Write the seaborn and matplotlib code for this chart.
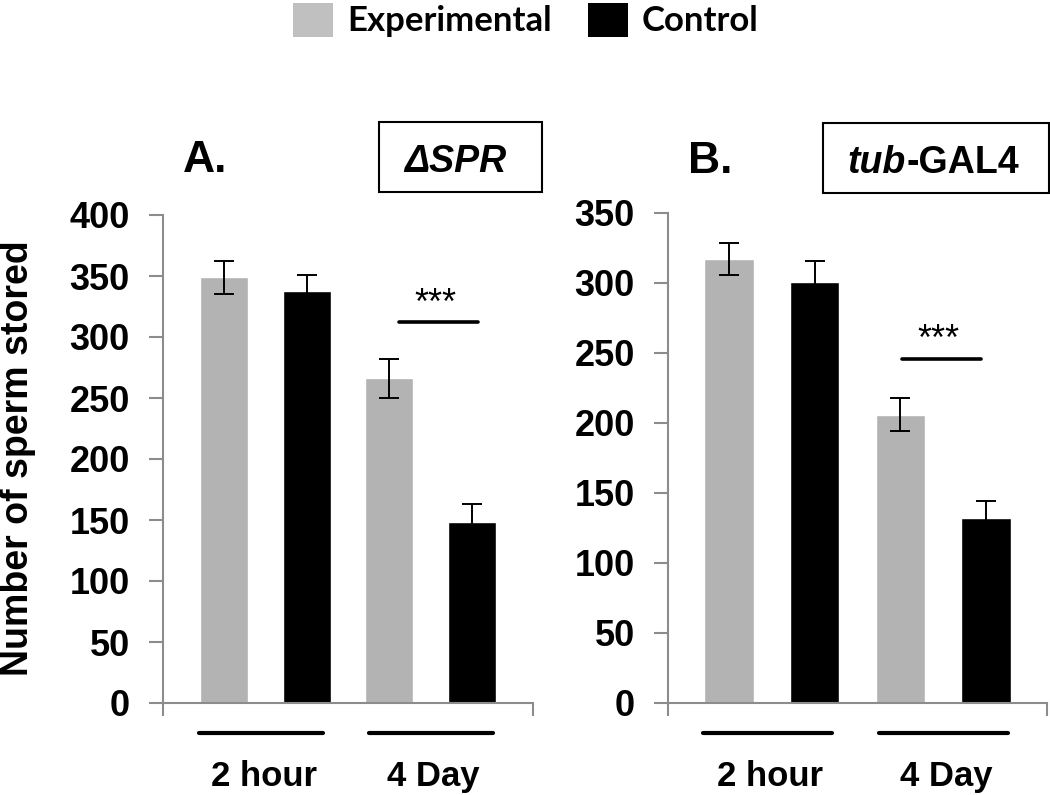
import numpy as np
import pandas as pd
import matplotlib
matplotlib.use('Agg')
import matplotlib.pyplot as plt
from matplotlib.patches import Patch, Rectangle
import seaborn as sns

time_points = ['2 hour', '4 Day']
conditions = ['Experimental', 'Control']

# panel A (delta SPR)
spr_exp = [349, 266]
spr_exp_err = [13.5, 16]
spr_ctrl = [338, 148]
spr_ctrl_err = [12.5, 15]

# panel B (tub-GAL4)
tub_exp = [317, 206]
tub_exp_err = [11.5, 12]
tub_ctrl = [301, 132]
tub_ctrl_err = [15, 12]

sns.set_style('white')
plt.rcParams['font.family'] = ['Liberation Sans', 'DejaVu Sans']
plt.rcParams['text.color'] = 'black'

bar_colors = {'Experimental': '#b3b3b3', 'Control': '#000000'}
axis_gray = '#8c8c8c'


def make_df(exp, exp_err, ctrl, ctrl_err):
    rows = []
    for i, tp in enumerate(time_points):
        rows.append({'bar': f'{tp} Experimental', 'cond': 'Experimental', 'value': exp[i], 'err': exp_err[i]})
        rows.append({'bar': f'{tp} Control', 'cond': 'Control', 'value': ctrl[i], 'err': ctrl_err[i]})
    return pd.DataFrame(rows)


def draw_panel(ax, df, ymax, xlim, sig_y, star_y, sig_x):
    sns.barplot(data=df, x='bar', y='value', hue='cond', order=list(df['bar']),
                hue_order=conditions, palette=bar_colors, dodge=False, width=0.58,
                errorbar=None, saturation=1, legend=False, ax=ax)
    ax.errorbar(np.arange(len(df)), df['value'], yerr=df['err'], fmt='none',
                ecolor='black', elinewidth=1.4, capsize=7, capthick=1.4, zorder=5)

    ax.set_ylim(0, ymax)
    ax.set_xlim(*xlim)
    ax.set_yticks(np.arange(0, ymax + 1, 50))
    ax.set_xticks(list(xlim))
    ax.set_xticklabels(['', ''])
    ax.set_xlabel('')
    ax.set_ylabel('')
    for s in ['top', 'right']:
        ax.spines[s].set_visible(False)
    for s in ['left', 'bottom']:
        ax.spines[s].set_color(axis_gray)
        ax.spines[s].set_linewidth(1.5)
    ax.tick_params(axis='y', labelsize=26, length=10, width=1.5, color=axis_gray,
                   labelcolor='black', pad=14, left=True)
    ax.tick_params(axis='x', length=9, width=1.5, color=axis_gray, bottom=True)
    for lab in ax.get_yticklabels():
        lab.set_fontweight('bold')

    # significance bar
    ax.plot(sig_x, [sig_y, sig_y], color='black', lw=2.6)
    ax.text(np.mean(sig_x) - 0.04, star_y, '***', ha='center', va='center', fontsize=26)

    # group lines and labels under the axis
    trans = ax.get_xaxis_transform()
    for center, tp in zip([0.45, 2.5], time_points):
        ax.plot([center - 0.75, center + 0.75], [-0.0615, -0.0615], color='black', lw=3,
                transform=trans, clip_on=False)
        ax.text(center + 0.03, -0.15, tp, transform=trans, ha='center', va='center',
                fontsize=25, fontweight='bold')


fig = plt.figure(figsize=(10.5, 7.95), dpi=100)
W, H = 1050, 795

ax_a = fig.add_axes([163 / W, 92 / H, 370 / W, 488 / H])
ax_b = fig.add_axes([668 / W, 92 / H, 379 / W, 490 / H])

draw_panel(ax_a, make_df(spr_exp, spr_exp_err, spr_ctrl, spr_ctrl_err), 400,
           (-0.74, 3.74), 312, 327, (2.12, 3.08))
draw_panel(ax_b, make_df(tub_exp, tub_exp_err, tub_ctrl, tub_ctrl_err), 350,
           (-0.71, 3.71), 246, 259, (2.02, 2.94))

fig.text(18 / W, 1 - 458 / H, 'Number of sperm stored', rotation=90, ha='center', va='center',
         fontsize=27, fontweight='bold')

# panel letters
fig.text(183 / W, 1 - 172 / H, 'A.', ha='left', va='baseline', fontsize=32, fontweight='bold')
fig.text(688 / W, 1 - 173 / H, 'B.', ha='left', va='baseline', fontsize=32, fontweight='bold')

# genotype boxes
fig.add_artist(Rectangle((379 / W, 1 - 192 / H), 163 / W, 70 / H, transform=fig.transFigure,
                         fill=False, ec='black', lw=1.5))
fig.add_artist(Rectangle((823 / W, 1 - 193 / H), 226 / W, 70 / H, transform=fig.transFigure,
                         fill=False, ec='black', lw=1.5))
fig.text(455 / W, 1 - 172 / H, '\u0394SPR', ha='center', va='baseline', fontsize=27,
         fontweight='bold', style='italic')
fig.text(906 / W, 1 - 173 / H, 'tub', ha='right', va='baseline', fontsize=27,
         fontweight='bold', style='italic')
fig.text(906 / W, 1 - 173 / H, '-GAL4', ha='left', va='baseline', fontsize=27, fontweight='bold')

# legend at top
handles = [Patch(facecolor='#c0c0c0', edgecolor='none'), Patch(facecolor='black', edgecolor='none')]
fig.legend(handles, conditions, loc='center left', bbox_to_anchor=(293 / W, 1 - 20 / H),
           ncol=2, frameon=False, handlelength=1.15, handleheight=1.15, handletextpad=0.4,
           columnspacing=1.05, borderpad=0, borderaxespad=0, labelcolor='black',
           prop={'family': ['Lato', 'DejaVu Sans'], 'weight': 'bold', 'size': 25})

fig.savefig('out.png', dpi=100)
